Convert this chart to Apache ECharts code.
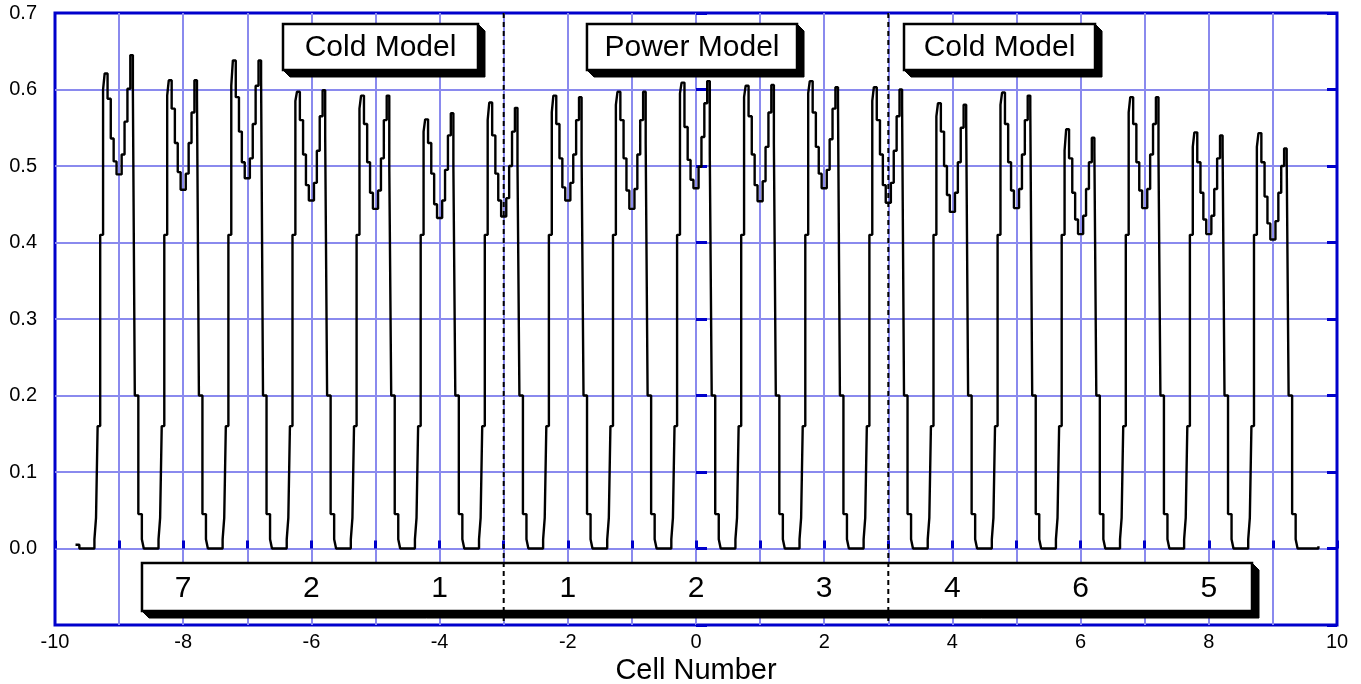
<!DOCTYPE html>
<html>
<head>
<meta charset="utf-8">
<script src="https://cdn.jsdelivr.net/npm/echarts@6/dist/echarts.min.js"></script>
<style>
html,body{margin:0;padding:0;background:#ffffff;}
#chart{width:1361px;height:684px;}
</style>
</head>
<body>
<div id="chart"></div>
<script>
// ---------------- DATA ----------------
// Cell centres along the x axis (Cell Number)
const cellNumbers = [-9,-8,-7,-6,-5,-4,-3,-2,-1,0,1,2,3,4,5,6,7,8,9];

// Top part of each cell profile:
// [left shoulder, left peak, 3 steps down..., dip, 3 steps up..., right peak, right shoulder]
const cellTops = [
  [0.600,0.621,0.588,0.536,0.506,0.489,0.515,0.558,0.601,0.645,0.597],
  [0.592,0.612,0.575,0.530,0.492,0.469,0.490,0.530,0.570,0.612,0.590],
  [0.605,0.638,0.590,0.545,0.505,0.484,0.510,0.555,0.605,0.638,0.615],
  [0.585,0.597,0.560,0.515,0.475,0.455,0.478,0.520,0.565,0.599,0.540],
  [0.575,0.592,0.555,0.505,0.465,0.444,0.468,0.510,0.560,0.592,0.500],
  [0.545,0.561,0.530,0.490,0.450,0.432,0.455,0.495,0.540,0.569,0.500],
  [0.560,0.583,0.540,0.490,0.455,0.434,0.458,0.500,0.545,0.576,0.505],
  [0.570,0.592,0.555,0.510,0.472,0.455,0.478,0.515,0.560,0.590,0.515],
  [0.580,0.597,0.560,0.510,0.468,0.444,0.470,0.515,0.560,0.597,0.530],
  [0.595,0.609,0.551,0.508,0.482,0.471,0.499,0.538,0.582,0.611,0.516],
  [0.590,0.605,0.565,0.515,0.475,0.454,0.480,0.525,0.570,0.606,0.530],
  [0.595,0.611,0.570,0.525,0.490,0.471,0.495,0.535,0.575,0.603,0.585],
  [0.585,0.603,0.560,0.515,0.475,0.452,0.478,0.520,0.565,0.600,0.580],
  [0.565,0.582,0.545,0.500,0.462,0.440,0.465,0.505,0.550,0.580,0.560],
  [0.580,0.596,0.555,0.505,0.468,0.445,0.470,0.515,0.560,0.592,0.575],
  [0.520,0.548,0.510,0.465,0.430,0.411,0.435,0.470,0.505,0.537,0.520],
  [0.570,0.590,0.555,0.505,0.468,0.445,0.470,0.515,0.555,0.590,0.515],
  [0.525,0.544,0.505,0.465,0.430,0.411,0.435,0.470,0.510,0.540,0.525],
  [0.525,0.543,0.505,0.460,0.425,0.404,0.428,0.465,0.500,0.523,0.510]
];
// x offsets (from the cell centre) where the top levels start
const topDx = [-0.25,-0.225,-0.18,-0.13,-0.085,-0.04,0.04,0.085,0.13,0.175,0.215];

// rising (left) edge of each cell: offset -> level
const leftEdgeDx = [-0.5,-0.385,-0.36,-0.335,-0.295];
const leftEdgeY  = [0, 0.012, 0.04, 0.16, 0.41];
// falling (right) edge of each cell: offset -> level
const rightEdgeDx = [0.245,0.30,0.355,0.385];
const rightEdgeY  = [0.2, 0.045, 0.012, 0];

// start and end of the trace
const leadIn = [[-9.68,0.005],[-9.62,0]];
const tail = [[9.71,0.003]];

// axis ticks
const xTicks = [-10,-8,-6,-4,-2,0,2,4,6,8,10];
const yTickLabels = ['0.0','0.1','0.2','0.3','0.4','0.5','0.6','0.7'];

// annotations
const modelLabels = ['Cold Model','Power Model','Cold Model'];
const sectionBounds = [-3, 3];
const cellOrderLabels = ['7','2','1','1','2','3','4','6','5'];
const cellOrderX = [-8,-6,-4,-2,0,2,4,6,8];

// ---------------- BUILD SERIES ----------------
const trace = [];
leadIn.forEach(p => trace.push(p));
cellNumbers.forEach((c, i) => {
  leftEdgeDx.forEach((d, k) => trace.push([c + d, leftEdgeY[k]]));
  topDx.forEach((d, k) => trace.push([c + d, cellTops[i][k]]));
  rightEdgeDx.forEach((d, k) => trace.push([c + d, rightEdgeY[k]]));
});
tail.forEach(p => trace.push(p));

const FONT = '"Liberation Sans", Arial, Helvetica, sans-serif';
const GRIDC = '#8a8aee';
const AXC = '#0000cc';

const chart = echarts.init(document.getElementById('chart'), null, {renderer: 'canvas'});

const option = {
  animation: false,
  backgroundColor: '#ffffff',
  grid: {left: 55, right: 24, top: 13, bottom: 59, outerBoundsMode: 'none', containLabel: false,
         show: true, borderColor: AXC, borderWidth: 3, backgroundColor: 'transparent'},
  xAxis: {
    type: 'value', min: -10, max: 10, interval: 1,
    axisLine: {show: false},
    axisTick: {show: true, inside: true, length: 8, lineStyle: {color: AXC, width: 3}},
    splitLine: {show: true, showMinLine: false, showMaxLine: false, lineStyle: {color: GRIDC, width: 2}},
    axisLabel: {
      color: '#000', fontSize: 20, fontFamily: FONT, margin: 7,
      formatter: v => (xTicks.indexOf(Math.round(v)) >= 0 && Math.abs(v - Math.round(v)) < 1e-6) ? String(Math.round(v)) : ''
    },
    name: 'Cell Number', nameLocation: 'middle', nameGap: 29,
    nameTextStyle: {color: '#000', fontSize: 29, fontFamily: FONT}
  },
  yAxis: [{
    type: 'value', min: -0.1, max: 0.7, interval: 0.1,
    axisLine: {show: false},
    axisTick: {show: true, inside: true, length: 11, lineStyle: {color: AXC, width: 3}},
    splitLine: {show: true, showMinLine: false, showMaxLine: false, lineStyle: {color: GRIDC, width: 2}},
    axisLabel: {
      color: '#000', fontSize: 20, fontFamily: FONT, margin: 18,
      formatter: v => { const i = Math.round(v * 10); return (i >= 0 && i < yTickLabels.length) ? yTickLabels[i] : ''; }
    }
  }, {
    type: 'value', min: -0.1, max: 0.7, interval: 0.1, position: 'right',
    axisLine: {show: false},
    axisTick: {show: true, inside: true, length: 10, lineStyle: {color: AXC, width: 3}},
    splitLine: {show: false},
    axisLabel: {show: false}
  }],
  series: [{
    type: 'line',
    data: trace,
    step: 'end',
    showSymbol: false,
    symbol: 'none',
    z: 3,
    lineStyle: {color: '#000000', width: 2.4},
    silent: true
  }]
};
chart.setOption(option);

// ---------------- ANNOTATIONS (placed in data coordinates) ----------------
function px(x, y) { return chart.convertToPixel({gridIndex: 0}, [x, y]); }

const graphics = [];
function addBox(x0, y0, x1, y1, d) {
  const a = px(x0, y0), b = px(x1, y1);
  const X0 = a[0], Y0 = a[1], X1 = b[0], Y1 = b[1];
  graphics.push({
    type: 'polygon', z: 10, silent: true,
    shape: {points: [[X1, Y0], [X1 + d, Y0 + d], [X1 + d, Y1 + d], [X0 + d, Y1 + d], [X0, Y1]]},
    style: {fill: '#000', stroke: '#000', lineWidth: 1}
  });
  graphics.push({
    type: 'rect', z: 11, silent: true,
    shape: {x: X0, y: Y0, width: X1 - X0, height: Y1 - Y0},
    style: {fill: '#fff', stroke: '#000', lineWidth: 2.5}
  });
  return [(X0 + X1) / 2, (Y0 + Y1) / 2];
}
function addText(t, x, y, size) {
  graphics.push({
    type: 'text', z: 12, silent: true,
    style: {text: t, x: x, y: y, fill: '#000', fontSize: size, fontFamily: FONT, align: 'center', verticalAlign: 'middle'}
  });
}

const topBoxX = [[-6.443, -3.401], [-1.701, 1.576], [3.245, 6.225]];
topBoxX.forEach((bx, i) => {
  const c = addBox(bx[0], 0.6856, bx[1], 0.6255, 7);
  addText(modelLabels[i], c[0], c[1] + 1, 30);
});

const bc = addBox(-8.643, -0.019, 8.674, -0.0817, 7);
cellOrderLabels.forEach((t, i) => {
  const p = px(cellOrderX[i], -0.05);
  addText(t, p[0], bc[1] + 2, 30);
});

sectionBounds.forEach(x => {
  const a = px(x, 0.7), b = px(x, -0.1);
  graphics.push({
    type: 'line', z: 13, silent: true,
    shape: {x1: a[0], y1: a[1], x2: b[0], y2: b[1]},
    style: {stroke: '#000', lineWidth: 2, lineDash: [5, 4]}
  });
});

chart.setOption({graphic: graphics});
</script>
</body>
</html>
